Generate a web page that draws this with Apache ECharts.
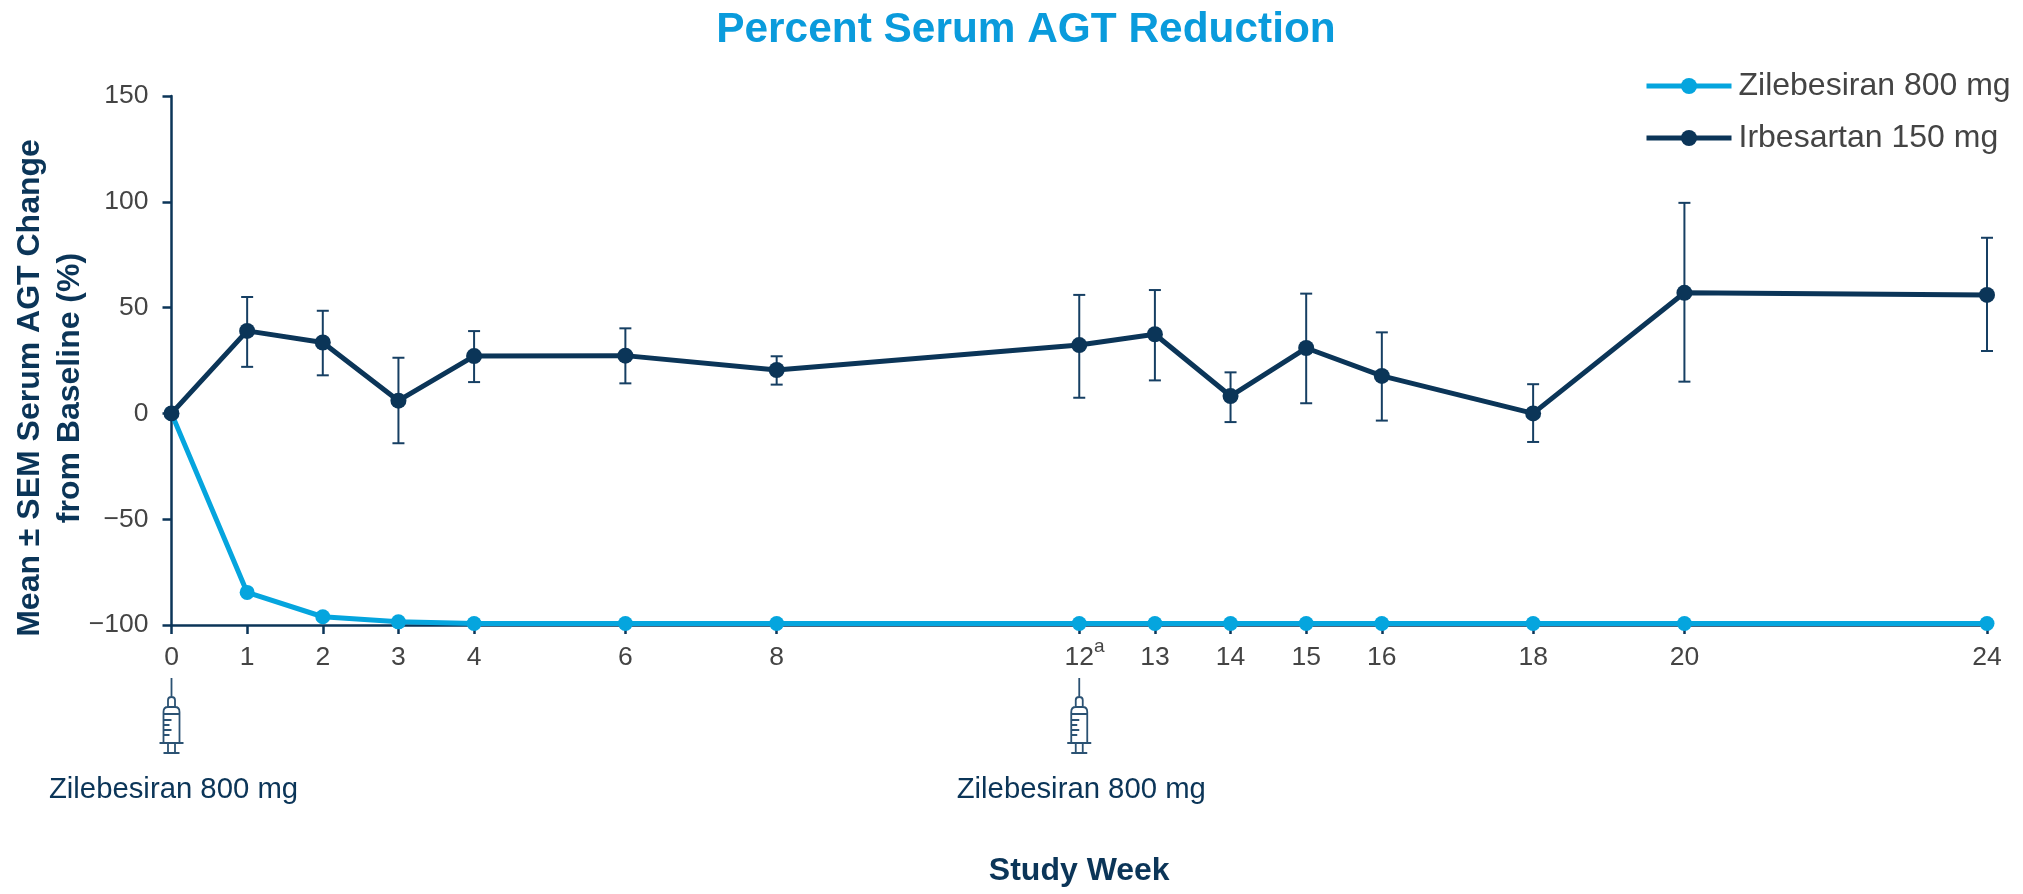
<!DOCTYPE html>
<html>
<head>
<meta charset="utf-8">
<style>
  html, body { margin: 0; padding: 0; background: #fff; }
  #chart { width: 2023px; height: 894px; }
</style>
</head>
<body>
<div id="chart"></div>
<script src="https://cdn.jsdelivr.net/npm/echarts@6/dist/echarts.min.js"></script>
<script>
const weeks = [0, 1, 2, 3, 4, 6, 8, 12, 13, 14, 15, 16, 18, 20, 24]
const zilebesiran = [0, -84.6, -96.1, -98.5, -99.3, -99.3, -99.3, -99.3, -99.3, -99.3, -99.3, -99.3, -99.3, -99.3, -99.3]
const irbesartan = [0, 39, 33.5, 6, 27.1, 27.3, 20.5, 32.3, 37.4, 8.2, 30.9, 17.7, 0, 57, 56]
const irbesartanLow = [0, 22, 18, -14.1, 14.8, 14.2, 13.6, 7.4, 15.6, -4.1, 4.8, -3.4, -13.5, 15, 29.5]
const irbesartanHigh = [0, 55, 48.5, 26.3, 38.9, 40.2, 27, 56, 58.3, 19.4, 56.6, 38.3, 13.8, 99.5, 83]
const doseWeeks = [0, 12]
const yTicks = [-100, -50, 0, 50, 100, 150]

const navy = '#0b3558'
const blue = '#05a5de'
const grey = '#444444'
const font = "'Liberation Sans', Arial, sans-serif"

// syringe outline, 24 wide and 75 tall, needle on top
const syringe = 'M12 0V19 M8.5 29V22Q8.5 19 12 19Q15.5 19 15.5 22V29 ' +
  'M4 65V34Q4 29 8.5 29H15.5Q20 29 20 34V65 M4 36H20 ' +
  'M4 42H12 M4 47H10 M4 52H12 M4 57H10 ' +
  'M0 65H24 M8.5 65V74 M15.5 65V74 M4 75H20'

const chart = echarts.init(document.getElementById('chart'), null, { renderer: 'canvas' })

chart.setOption({
  animation: false,
  backgroundColor: '#fff',
  textStyle: { fontFamily: font },
  title: {
    text: 'Percent Serum AGT Reduction',
    left: 1021,
    textAlign: 'center',
    top: 4,
    textStyle: { color: '#0a9bdc', fontSize: 42.4, fontWeight: 'bold', fontFamily: font }
  },
  legend: {
    left: 1639,
    top: 65,
    orient: 'vertical',
    itemWidth: 85,
    itemHeight: 20,
    itemGap: 20,
    lineStyle: { width: 5 },
    data: ['Zilebesiran 800 mg', 'Irbesartan 150 mg'],
    textStyle: { color: grey, fontSize: 32, fontFamily: font, padding: [0, 0, 0, 2] }
  },
  grid: { left: 171.5, right: 36, top: 96, bottom: 269, outerBoundsMode: 'none' },
  xAxis: {
    type: 'value',
    min: 0,
    max: 24,
    name: 'Study Week',
    nameLocation: 'middle',
    nameGap: 230,
    nameTextStyle: { color: navy, fontSize: 32, fontWeight: 'bold', fontFamily: font },
    axisLine: { onZero: false, lineStyle: { color: navy, width: 2.5 } },
    axisTick: { customValues: weeks, length: 9, lineStyle: { color: navy, width: 2.5 } },
    axisLabel: {
      customValues: weeks,
      margin: 12,
      color: grey,
      fontSize: 26.5,
      fontFamily: font,
      // every label has the same tall line so the week 12 superscript can sit above the digits
      formatter: v => v === 12 ? '{pad|12}{sup|a}' : '{n|' + v + '}',
      rich: {
        n: { fontSize: 26.5, color: grey, lineHeight: 42, fontFamily: font },
        pad: { fontSize: 26.5, color: grey, padding: [0, 0, 0, 10.6], lineHeight: 42, fontFamily: font },
        sup: { fontSize: 19, color: grey, verticalAlign: 'top', lineHeight: 18, fontFamily: font }
      }
    },
    splitLine: { show: false }
  },
  yAxis: {
    type: 'value',
    min: yTicks[0],
    max: yTicks[yTicks.length - 1],
    interval: 50,
    axisLine: { onZero: false, lineStyle: { color: navy, width: 2.5 } },
    axisTick: { length: 9, lineStyle: { color: navy, width: 2.5 } },
    axisLabel: {
      margin: 23,
      color: grey,
      fontSize: 26.5,
      fontFamily: font,
      formatter: v => String(v).replace('-', '\u2212')
    },
    splitLine: { show: false }
  },
  graphic: [{
    type: 'text',
    x: 50,
    y: 388,
    rotation: Math.PI / 2,
    style: {
      text: 'Mean \u00b1 SEM Serum AGT Change\nfrom Baseline (%)',
      fill: navy,
      font: 'bold 32px ' + font,
      align: 'center',
      verticalAlign: 'middle',
      lineHeight: 40
    }
  }],
  series: [
    {
      name: 'Irbesartan SEM',
      type: 'custom',
      data: weeks.map((w, i) => [w, irbesartanLow[i], irbesartanHigh[i]]).slice(1),
      encode: { x: 0, y: [1, 2] },
      silent: true,
      z: 2,
      renderItem (params, api) {
        const low = api.coord([api.value(0), api.value(1)])
        const high = api.coord([api.value(0), api.value(2)])
        const capStyle = { stroke: '#163f63', lineWidth: 2 }
        const line = (x1, y1, x2, y2) => ({ type: 'line', shape: { x1, y1, x2, y2 }, style: capStyle })
        return {
          type: 'group',
          children: [
            line(low[0], low[1], high[0], high[1]),
            line(low[0] - 6, low[1], low[0] + 6, low[1]),
            line(high[0] - 6, high[1], high[0] + 6, high[1])
          ]
        }
      }
    },
    {
      name: 'Zilebesiran 800 mg',
      type: 'line',
      clip: false,
      data: weeks.map((w, i) => [w, zilebesiran[i]]),
      color: blue,
      symbol: 'circle',
      symbolSize: 15,
      lineStyle: { width: 5, color: blue },
      itemStyle: { color: blue },
      z: 3
    },
    {
      name: 'Irbesartan 150 mg',
      type: 'line',
      clip: false,
      data: weeks.map((w, i) => [w, irbesartan[i]]),
      color: navy,
      symbol: 'circle',
      symbolSize: 16,
      lineStyle: { width: 5, color: navy },
      itemStyle: { color: navy },
      z: 4
    },
    {
      name: 'Dose',
      type: 'custom',
      data: doseWeeks.map(w => [w, yTicks[0]]),
      encode: { x: 0, y: 1 },
      silent: true,
      renderItem (params, api) {
        const p = api.coord([api.value(0), api.value(1)])
        return {
          type: 'group',
          children: [
            {
              type: 'path',
              shape: { pathData: syringe, layout: 'cover', x: p[0] - 12, y: p[1] + 53, width: 24, height: 75 },
              style: { fill: 'none', stroke: '#2b5273', lineWidth: 1.8 }
            },
            {
              type: 'text',
              x: p[0] + 2,
              y: p[1] + 165,
              style: {
                text: 'Zilebesiran 800 mg',
                fill: navy,
                font: '29.3px ' + font,
                align: 'center',
                verticalAlign: 'middle'
              }
            }
          ]
        }
      }
    }
  ]
})
</script>
</body>
</html>
